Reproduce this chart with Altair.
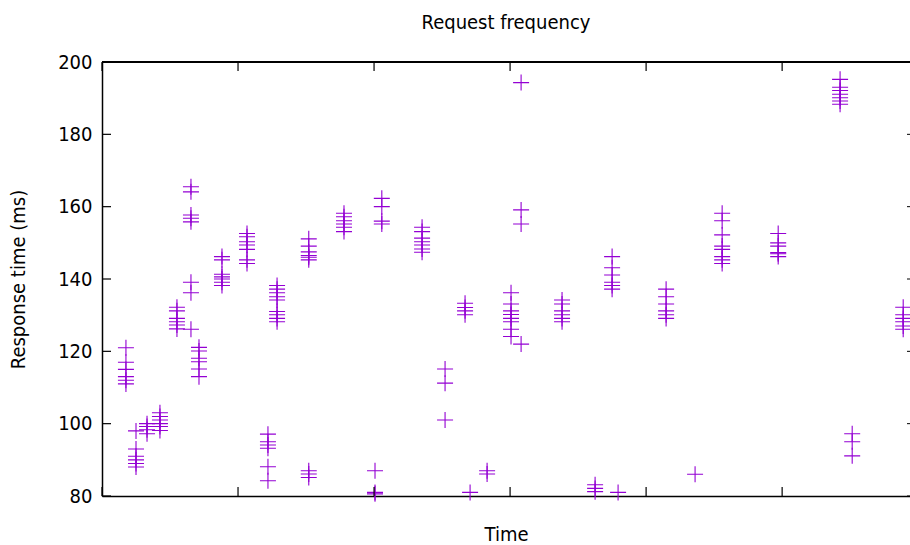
import altair as alt
import pandas as pd

# x positions (time, arbitrary units; one axis tick every 10 units)
times = [1.76, 2.5, 3.31, 4.26, 5.51, 6.54, 7.13, 8.82, 10.66, 12.2, 12.87,
         15.2, 15.2, 17.79, 20.07, 20.57, 23.53, 25.22, 26.69, 27.06, 28.31,
         30.07, 30.81, 33.82, 36.25, 37.5, 37.94, 41.47, 43.6, 45.59, 49.71,
         54.26, 55.15, 58.9]

# response times (ms) observed at each time
responses = [
    [121, 117, 115, 113, 112, 111],
    [98, 93, 91, 90, 89, 88],
    [100, 99.2, 98.3, 97.2],
    [103, 102, 101, 100, 99.2, 98.1],
    [132.2, 131.2, 129.1, 128.2, 127.3, 126.2],
    [165.5, 164.1, 157.7, 156.8, 155.8, 139.1, 136.2, 126.1],
    [121.1, 120.1, 118.1, 117.1, 115.1, 113],
    [146.2, 145.3, 141.3, 140.6, 140, 139.1, 138.2],
    [152.6, 151.7, 150.3, 149.4, 148.2, 145.3, 144.3],
    [97.1, 95, 94.1, 93.2, 88.1, 84.2],
    [138.2, 137.2, 136.2, 135.1, 134.2, 131, 130.1, 129.1, 128.2],
    [151.1, 149.1, 147.5, 146.5, 146, 145.3],
    [87, 86.1, 85.1],
    [158.2, 157.2, 156.1, 155.2, 154.3, 153.1],
    [87, 81, 80.6],
    [162.3, 160, 156, 155.2],
    [154.3, 153.1, 151.3, 150.3, 149.4, 148.3, 147.4],
    [115.1, 111.2, 101],
    [133.3, 132.1, 131.2, 130.1],
    [81],
    [87, 86.1],
    [136.2, 133.1, 131.2, 130.2, 129.1, 128.2, 126.1, 124.1],
    [194.3, 159.1, 155.2, 122],
    [134.2, 133.1, 131.2, 130.1, 129.1, 128.2],
    [83.1, 82.1, 81.2],
    [146.2, 143.1, 141.1, 139.1, 138.2, 137.2],
    [81],
    [137.2, 135.1, 133.1, 131.2, 130.1, 129.1],
    [86],
    [158.2, 156.1, 152.2, 149.1, 148.2, 146.2, 145.3, 144.3],
    [152.6, 150, 149.1, 147.3, 147, 146.2],
    [195.2, 193, 192.1, 191.1, 190.1, 189.2, 188.3],
    [97.2, 95, 91.1],
    [132.2, 130.1, 129.1, 128.2, 127, 126.1],
]

y_ticks = [80, 100, 120, 140, 160, 180, 200]
x_ticks = [0, 10, 20, 30, 40, 50]

rows = []
for t, ys in zip(times, responses):
    for v in ys:
        rows.append({"time": t, "response": v})
df = pd.DataFrame(rows)

FONT = "DejaVu Sans Condensed"
W, H = 808, 434
XDOM = [0, 59.4]
YDOM = [80, 200]
xs = alt.Scale(domain=XDOM, nice=False, zero=False)
ys_ = alt.Scale(domain=YDOM, nice=False, zero=False)

x_axis = alt.Axis(labels=False, ticks=False, grid=False, domain=True,
                  domainColor="black", domainWidth=1.5,
                  titleFont=FONT, titleFontSize=20, titleFontWeight="normal",
                  titleColor="black", titlePadding=28)
y_axis = alt.Axis(values=y_ticks, ticks=False, grid=False, domain=True,
                  domainColor="black", domainWidth=1.5,
                  labelFont=FONT, labelFontSize=20, labelColor="black",
                  labelPadding=10,
                  titleFont=FONT, titleFontSize=20, titleFontWeight="normal",
                  titleColor="black", titleX=-74)
XT = "Time"
YT = "Response time (ms)"

cross = "M-1,0L1,0M0,-1L0,1"

points = alt.Chart(df).mark_point(
    shape=cross, size=256, filled=False, color="#9400D3",
    strokeWidth=1.1, opacity=1
).encode(
    x=alt.X("time:Q", scale=xs, title=XT, axis=x_axis),
    y=alt.Y("response:Q", scale=ys_, title=YT, axis=y_axis),
)

ydf = pd.DataFrame({"v": y_ticks})
xdf = pd.DataFrame({"t": x_ticks})

left_ticks = alt.Chart(ydf).mark_rule(color="black", strokeWidth=1.2).encode(
    y=alt.Y("v:Q", scale=ys_, title=YT, axis=y_axis), x=alt.value(0), x2=alt.value(9))
right_ticks = alt.Chart(ydf).mark_rule(color="black", strokeWidth=1.0).encode(
    y=alt.Y("v:Q", scale=ys_, title=YT, axis=y_axis), x=alt.value(805), x2=alt.value(812))
bottom_ticks = alt.Chart(xdf).mark_rule(color="black", strokeWidth=1.2).encode(
    x=alt.X("t:Q", scale=xs, title=XT, axis=x_axis), y=alt.value(H), y2=alt.value(H - 9))
top_ticks = alt.Chart(xdf).mark_rule(color="black", strokeWidth=1.2).encode(
    x=alt.X("t:Q", scale=xs, title=XT, axis=x_axis), y=alt.value(0), y2=alt.value(9))
top_border = alt.Chart(xdf).mark_rule(color="black", strokeWidth=1.5).encode(
    x=alt.value(0), x2=alt.value(W + 5), y=alt.value(0))

chart = alt.layer(points, left_ticks, right_ticks, bottom_ticks, top_ticks, top_border).properties(
    width=W, height=H,
    title=alt.TitleParams("Request frequency", font=FONT, fontSize=20,
                          fontWeight="normal", color="black", anchor="middle",
                          offset=19),
    autosize=alt.AutoSizeParams(type="none"),
    padding={"left": 102, "top": 62, "right": 0, "bottom": 49},
).configure_view(stroke=None).configure(background="white")

chart.save("out.html", embed_options={"renderer": "svg", "actions": False})
